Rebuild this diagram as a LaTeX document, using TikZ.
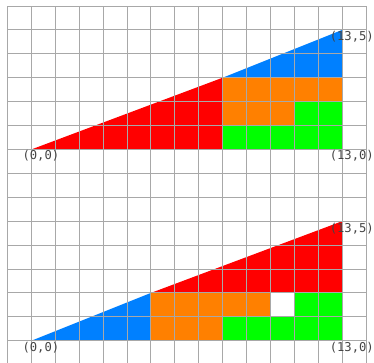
\documentclass[tikz,border=0pt]{standalone}
\usepackage{fontspec}
\newfontfamily\labfont{DejaVu Sans Mono}
\definecolor{pred}{RGB}{255,0,0}
\definecolor{pblue}{RGB}{0,128,255}
\definecolor{porange}{RGB}{255,128,0}
\definecolor{pgreen}{RGB}{0,255,0}
\definecolor{gridc}{RGB}{168,168,168}
\definecolor{labc}{RGB}{68,68,68}
\tikzset{
  gridline/.style={draw=gridc, line width=1.1pt},
  lab/.style={text=labc, font=\labfont\fontsize{14.5}{16}\selectfont, inner sep=0pt},
}
\begin{document}
\begin{tikzpicture}
\useasboundingbox (-1.31,-0.89) rectangle (14.33,14.25);
% top figure (origin at (0,8))
\begin{scope}[yshift=8cm]
\fill[pred] (0,0) -- (8,0) -- (8,3) -- cycle;
\fill[pblue] (8,3) -- (13,3) -- (13,5) -- cycle;
\fill[porange] (8,1) -- (8,3) -- (13,3) -- (13,2) -- (11,2) -- (11,1) -- cycle;
\fill[pgreen] (8,0) -- (13,0) -- (13,2) -- (11,2) -- (11,1) -- (8,1) -- cycle;
\end{scope}
% bottom figure (origin at (0,0))
\fill[pblue] (0,0) -- (5,0) -- (5,2) -- cycle;
\fill[pred] (5,2) -- (13,2) -- (13,5) -- cycle;
\fill[porange] (5,0) -- (5,2) -- (10,2) -- (10,1) -- (8,1) -- (8,0) -- cycle;
\fill[pgreen] (8,0) -- (13,0) -- (13,2) -- (11,2) -- (11,1) -- (8,1) -- cycle;
% grid
\begin{scope}
\clip (-1.31,-0.89) rectangle (14.33,14.25);
\foreach \x in {-1,...,14} \draw[gridline] (\x,-1) -- (\x,14);
\foreach \y in {0,...,14} \draw[gridline] (-1,\y) -- (14,\y);
\end{scope}
% labels
\node[lab] (a0) at (0.4,7.72) {(0,0)};
\node[lab] (a1) at (13.4,7.72) {(13,0)};
\node[lab] (a2) at (13.4,12.7) {(13,5)};
\node[lab] (b0) at (0.4,-0.28) {(0,0)};
\node[lab] (b1) at (13.4,-0.28) {(13,0)};
\node[lab] (b2) at (13.4,4.7) {(13,5)};
\end{tikzpicture}
\end{document}
